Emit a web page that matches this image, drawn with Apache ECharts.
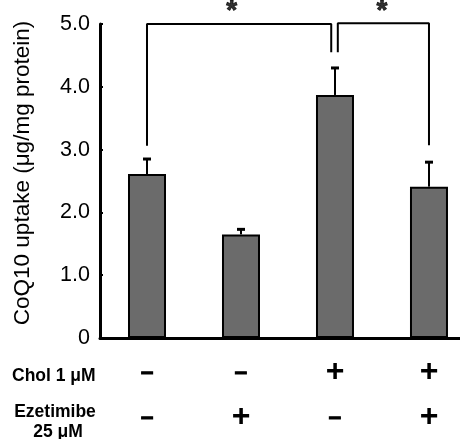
<!DOCTYPE html>
<html>
<head>
<meta charset="utf-8">
<script src="https://cdn.jsdelivr.net/npm/echarts@6/dist/echarts.min.js"></script>
<style>
html,body{margin:0;padding:0;background:#fff;}
#chart{width:460px;height:439px;}
</style>
</head>
<body>
<div id="chart"></div>
<script>
// groups (x positions) and their treatment signs
var groups = [0, 1, 2, 3];
var cholSigns = ['-', '-', '+', '+'];
var ezetSigns = ['-', '+', '-', '+'];
// CoQ10 uptake (mean) and top of error bar
var uptake = [2.61, 1.65, 3.87, 2.41];
var errTop = [2.85, 1.73, 4.30, 2.80];
// significance brackets, x in group index units
var leftBracket = [[0, 3.06], [0, 5.0], [1.96, 5.0], [1.96, 4.55]];
var rightBracket = [[2.03, 4.55], [2.03, 5.01], [3, 5.01], [3, 3.07]];
var stars = [[0.9, 5.21], [2.5, 5.21]];

var font = 'Liberation Sans, Arial, sans-serif';
var chart = echarts.init(document.getElementById('chart'));

function errorBar(params, api) {
    var i = api.value(0);
    var lo = api.coord([i, api.value(1)]);
    var hi = api.coord([i, api.value(2)]);
    return {
        type: 'group',
        children: [
            {type: 'line', shape: {x1: lo[0], y1: lo[1], x2: hi[0], y2: hi[1]}, style: {stroke: '#000', lineWidth: 2}},
            {type: 'line', shape: {x1: hi[0] - 4, y1: hi[1], x2: hi[0] + 4, y2: hi[1]}, style: {stroke: '#000', lineWidth: 3}}
        ]
    };
}

chart.setOption({
    animation: false,
    grid: {left: 100, top: 24, right: 0, bottom: 101},
    xAxis: {
        type: 'value',
        min: -0.5, max: 3.33,
        splitLine: {show: false},
        axisLine: {onZero: false, lineStyle: {color: '#000', width: 3}},
        axisTick: {show: false},
        axisLabel: {
            margin: 12,
            customValues: groups,
            formatter: function (v) {
                var i = Math.round(v);
                var a = cholSigns[i] === '-' ? '{m|–}' : '{p|+}';
                var b = ezetSigns[i] === '-' ? '{m|–}' : '{p|+}';
                return a + '\n' + b;
            },
            rich: {
                m: {fontFamily: font, fontWeight: 'bold', fontSize: 22, lineHeight: 45, color: '#000',
                    textBorderColor: '#000', textBorderWidth: 1.2},
                p: {fontFamily: font, fontWeight: 'bold', fontSize: 32, lineHeight: 45, color: '#000'}
            }
        }
    },
    yAxis: {
        type: 'value',
        min: 0, max: 5, interval: 1,
        name: 'CoQ10 uptake (μg/mg protein)',
        nameLocation: 'middle',
        nameGap: 66,
        nameTextStyle: {fontFamily: font, fontSize: 22.5, color: '#000', padding: [0, 0, 0, 16]},
        axisLine: {show: true, onZero: false, lineStyle: {color: '#000', width: 3}},
        axisTick: {show: true, inside: true, length: 3, lineStyle: {color: '#000', width: 2}},
        splitLine: {show: false},
        axisLabel: {
            margin: 10,
            fontFamily: font, fontSize: 21.5, color: '#000',
            formatter: function (v) { return v === 0 ? '0' : v.toFixed(1); }
        }
    },
    series: [
        {
            type: 'bar',
            data: uptake.map(function (v, i) { return [groups[i], v]; }),
            barWidth: 38,
            itemStyle: {color: '#6b6b6b', borderColor: '#000', borderWidth: 2},
            z: 2
        },
        {
            type: 'custom',
            renderItem: errorBar,
            data: uptake.map(function (v, i) { return [groups[i], v, errTop[i]]; }),
            z: 3
        },
        {
            type: 'line', data: leftBracket, clip: false,
            symbol: 'none', lineStyle: {color: '#000', width: 2}
        },
        {
            type: 'line', data: rightBracket, clip: false,
            symbol: 'none', lineStyle: {color: '#000', width: 2}
        },
        {
            type: 'scatter', data: stars, clip: false,
            symbolSize: 0,
            label: {
                show: true, position: 'inside', formatter: '*',
                fontFamily: font, fontWeight: 'bold', fontSize: 28, color: '#000',
                textBorderColor: '#000', textBorderWidth: 0.8
            }
        }
    ],
    graphic: [
        {type: 'text', left: 12, top: 367, style: {text: 'Chol 1 μM', fontFamily: font, fontWeight: 'bold', fontSize: 17.5, fill: '#000'}},
        {type: 'text', x: 55, y: 412, style: {text: 'Ezetimibe', align: 'center', verticalAlign: 'middle', fontFamily: font, fontWeight: 'bold', fontSize: 17.5, fill: '#000'}},
        {type: 'text', x: 58, y: 432, style: {text: '25 μM', align: 'center', verticalAlign: 'middle', fontFamily: font, fontWeight: 'bold', fontSize: 17.5, fill: '#000'}}
    ]
});
</script>
</body>
</html>
